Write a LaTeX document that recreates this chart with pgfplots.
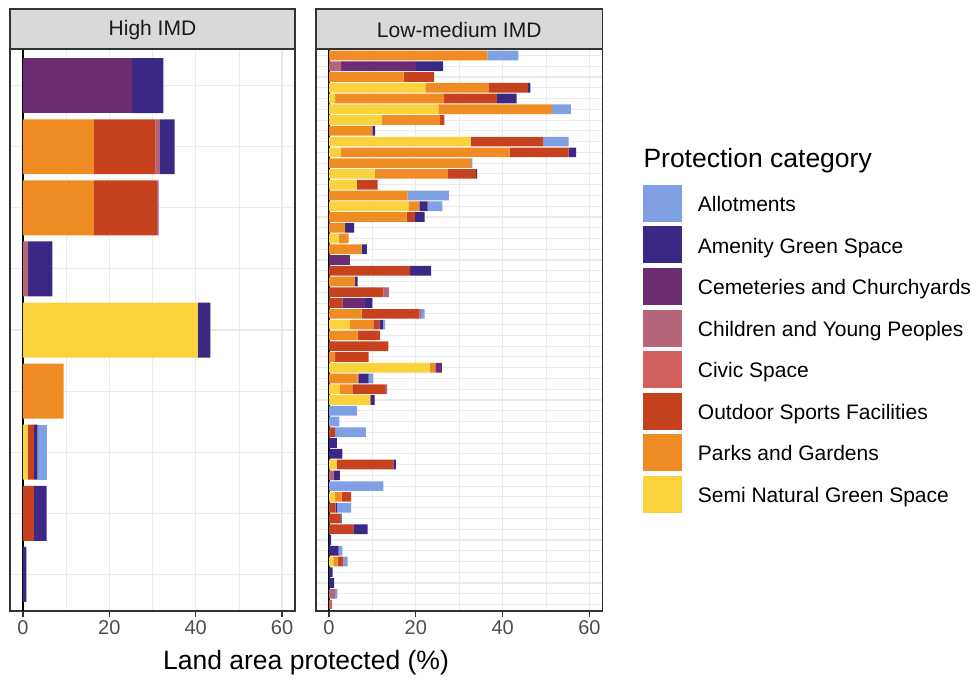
\documentclass[border=0pt]{standalone}
\usepackage{pgfplots}
\pgfplotsset{compat=1.18}
\usepackage{pgfplotstable}
\usepackage{fontspec}
\setmainfont{Liberation Sans}

\definecolor{cAllot}{HTML}{7FA1E3}
\definecolor{cAmen}{HTML}{3A2884}
\definecolor{cCem}{HTML}{6B2D72}
\definecolor{cChild}{HTML}{B6647A}
\definecolor{cCivic}{HTML}{D35F5A}
\definecolor{cSport}{HTML}{C6421E}
\definecolor{cParks}{HTML}{EF8C23}
\definecolor{cSemi}{HTML}{F9D23C}
\definecolor{gridc}{HTML}{EBEBEB}
\definecolor{borderc}{HTML}{333333}
\definecolor{tickc}{HTML}{4D4D4D}
\definecolor{stripc}{HTML}{D9D9D9}

\pgfplotstableread{
idx semi parks sports civic children cem amen allot
1 0 0 0 0 0 25.3 7.2 0
2 0 16.4 14.3 0 1.0 0 3.4 0
3 0 16.4 14.6 0 0.4 0 0 0
4 0 0 0 0 1.2 0 5.6 0
5 40.5 0 0 0 0 0 2.9 0
6 0 9.4 0 0 0 0 0 0
7 1.1 0 1.4 0 0 0 0.9 2.1
8 0 0 2.5 0 0 0 3.0 0
9 0 0 0 0 0 0 0.8 0
}\highdata

\pgfplotstableread{
idx semi parks sports civic children cem amen allot
1 0 36.5 0 0 0 0 0 7.1
2 0 0 0 0 2.8 17.2 6.3 0
3 0 17.2 7.0 0 0 0 0 0
4 22.2 14.6 9.0 0 0 0 0.6 0
5 1.4 25.1 12.2 0 0 0 4.5 0
6 25.2 26.2 0 0 0 0 0 4.3
7 12.2 13.4 1.0 0 0 0 0 0
8 0 10.0 0 0 0 0 0.6 0
9 32.6 0 16.7 0 0 0 0 5.9
10 2.8 38.8 13.6 0 0 0 1.7 0
11 0 32.7 0 0 0 0 0 0.3
12 10.5 16.9 6.5 0 0 0 0.2 0
13 6.4 0 4.8 0 0 0 0 0
14 0 18.1 0 0 0 0 0 9.5
15 18.3 2.5 0 0 0 0 1.9 3.4
16 0 17.9 1.9 0 0 0 2.2 0
17 0 3.7 0 0 0 0 2.1 0
18 2.2 2.3 0 0 0 0 0 0
19 0 7.5 0 0 0 0 1.2 0
20 0 0 0 0 0 4.8 0 0
21 0 0 18.7 0 0 0 4.8 0
22 0 6.0 0 0 0 0 0.6 0
23 0 0 12.5 0 1.3 0 0 0
24 0 0 3.1 0 0 5.2 1.7 0
25 0 7.5 13.3 0 0.4 0 0 0.8
26 4.8 5.4 1.4 0 0 0 0.8 0.5
27 0 6.6 5.2 0 0 0 0 0
28 0 0 13.7 0 0 0 0 0
29 0 1.4 7.7 0 0 0 0 0
30 23.2 1.3 0 0 0 1.5 0 0
31 0 6.6 0 0 0.3 0 2.2 1.1
32 2.5 2.9 7.5 0 0.5 0 0 0
33 9.5 0 0 0 0 0 1.0 0
34 0 0 0 0 0 0 0 6.5
35 0 0 0 0 0 0 0 2.4
36 0 0 1.4 0 0 0 0 7.1
37 0 0 0 0 0 0 1.8 0
38 0 0 0 0 0 0 3.1 0
39 1.8 0 13.0 0 0 0 0.6 0
40 0 0 0 0 1.2 0 1.3 0
41 0 0 0 0 0 0 0 12.5
42 1.4 1.5 2.2 0 0 0 0 0
43 0 0 1.5 0 0 0 0.3 3.3
44 0 0 2.6 0 0 0 0.3 0
45 0 0 5.6 0 0 0 3.3 0
46 0 0 0 0 0 0 0.5 0
47 0 0 0 0 0 0 2.2 0.9
48 1.0 1.0 1.3 0 0 0 0 1.0
49 0 0 0 0 0 0 0.8 0
50 0 0 0 0 0 0 1.2 0
51 0 0 0 0 1.4 0 0 0.5
52 0 0 0 0.6 0 0 0 0
}\lowdata

\pgfplotsset{
  panel/.style={
    anchor=south west, scale only axis,
    xmin=-3, xmax=63, y dir=reverse,
    xbar stacked, bar width=0.9,
    xtick={0,20,40,60}, minor xtick={10,30,50},
    yticklabels={},
    xmajorgrids, xminorgrids, ymajorgrids,
    major grid style={draw=gridc, line width=1.1pt},
    minor grid style={draw=gridc, line width=0.6pt},
    axis line style={draw=borderc, line width=1.2pt},
    tick align=outside, xtick pos=bottom, ytick pos=left,
    major x tick style={draw=borderc, line width=1.1pt},
    major tick length=6pt, minor tick length=0pt,
    y tick style={draw=none},
    /pgf/number format/assume math mode=true,
    xticklabel style={font=\fontsize{20}{24}\selectfont, text=tickc, inner sep=0pt, anchor=north, yshift=-3pt},
  },
  bars/.style={draw=none, fill=#1},
}

\newcommand{\stackplots}[1]{%
  \addplot[bars=cSemi]   table[x=semi, y=idx] {#1};
  \addplot[bars=cParks]  table[x=parks, y=idx] {#1};
  \addplot[bars=cSport]  table[x=sports, y=idx] {#1};
  \addplot[bars=cCivic]  table[x=civic, y=idx] {#1};
  \addplot[bars=cChild]  table[x=children, y=idx] {#1};
  \addplot[bars=cCem]    table[x=cem, y=idx] {#1};
  \addplot[bars=cAmen]   table[x=amen, y=idx] {#1};
  \addplot[bars=cAllot]  table[x=allot, y=idx] {#1};
}

\begin{document}
\begin{tikzpicture}
\useasboundingbox (0,0) rectangle (976pt,681pt);

% Left panel
\begin{axis}[panel, at={(10pt,70pt)}, width=285pt, height=562pt,
  ymin=0.4, ymax=9.6, ytick={1,...,9}]
  \stackplots{\highdata}
  \draw[black, line width=1.6pt] (axis cs:0,0.4) -- (axis cs:0,9.6);
\end{axis}

% Right panel
\begin{axis}[panel, at={(316pt,70pt)}, width=286.5pt, height=562pt,
  ymin=0.4, ymax=52.6, ytick={1,...,52}]
  \stackplots{\lowdata}
  \draw[black, line width=1.6pt] (axis cs:0,0.4) -- (axis cs:0,52.6);
\end{axis}

% Strips
\draw[fill=stripc, draw=borderc, line width=1.2pt] (10pt,632pt) rectangle (295pt,672pt);
\node[font=\fontsize{21}{25}\selectfont, text=black!90] at (152.5pt,651pt) {High IMD};
\draw[fill=stripc, draw=borderc, line width=1.2pt] (316pt,632pt) rectangle (602.5pt,672pt);
\node[font=\fontsize{21}{25}\selectfont, text=black!90] at (459.25pt,651pt) {Low-medium IMD};

% Axis title
\node[anchor=base, font=\fontsize{26.5}{30}\selectfont] at (306pt,11.7pt) {Land area protected (\%)};

% Legend
\node[anchor=base west, font=\fontsize{26.5}{30}\selectfont, inner sep=0pt] at (643.3pt,513pt) {Protection category};
\foreach \c/\t [count=\i from 0] in {cAllot/Allotments, cAmen/Amenity Green Space, cCem/Cemeteries and Churchyards, cChild/Children and Young Peoples, cCivic/Civic Space, cSport/Outdoor Sports Facilities, cParks/Parks and Gardens, cSemi/Semi Natural Green Space}{
  \fill[\c] (643.3pt,{496pt-41.5pt*\i}) rectangle (681.7pt,{459pt-41.5pt*\i});
  \node[anchor=base west, inner sep=0pt, font=\fontsize{21}{25}\selectfont] at (697.7pt,{469.5pt-41.5pt*\i}) {\t};
}
\end{tikzpicture}
\end{document}
